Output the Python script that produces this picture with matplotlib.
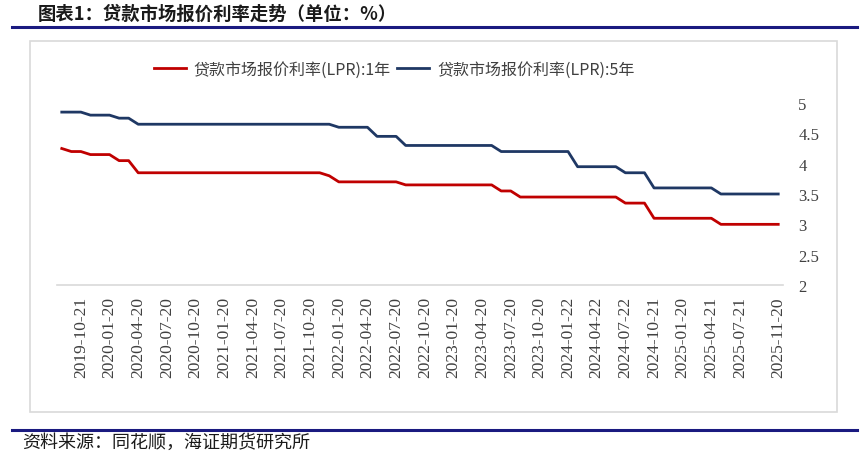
"""LPR 1Y / 5Y monthly trend, step-like line chart."""

import matplotlib.pyplot as plt
from matplotlib.lines import Line2D
from matplotlib.patches import Rectangle

plt.rcParams["font.family"] = ["Noto Sans CJK SC", "DejaVu Sans"]

dates = [
    "2019-08-20", "2019-09-20", "2019-10-21", "2019-11-20", "2019-12-20",
    "2020-01-20", "2020-02-20", "2020-03-20", "2020-04-20", "2020-05-20", "2020-06-22",
    "2020-07-20", "2020-08-20", "2020-09-22", "2020-10-20", "2020-11-20", "2020-12-21",
    "2021-01-20", "2021-02-20", "2021-03-22", "2021-04-20", "2021-05-20", "2021-06-21",
    "2021-07-20", "2021-08-20", "2021-09-22", "2021-10-20", "2021-11-22", "2021-12-20",
    "2022-01-20", "2022-02-21", "2022-03-21", "2022-04-20", "2022-05-20", "2022-06-20",
    "2022-07-20", "2022-08-22", "2022-09-20", "2022-10-20", "2022-11-21", "2022-12-20",
    "2023-01-20", "2023-02-20", "2023-03-20", "2023-04-20", "2023-05-22", "2023-06-20",
    "2023-07-20", "2023-08-21", "2023-09-20", "2023-10-20", "2023-11-20", "2023-12-20",
    "2024-01-22", "2024-02-20", "2024-03-20", "2024-04-22", "2024-05-20", "2024-06-20",
    "2024-07-22", "2024-08-20", "2024-09-20", "2024-10-21", "2024-11-20", "2024-12-20",
    "2025-01-20", "2025-02-20", "2025-03-20", "2025-04-21", "2025-05-20", "2025-06-20",
    "2025-07-21", "2025-08-20", "2025-09-22", "2025-10-20", "2025-11-20",
]

lpr_1y = [
    4.25, 4.20, 4.20, 4.15, 4.15,
    4.15, 4.05, 4.05, 3.85, 3.85, 3.85, 3.85, 3.85, 3.85, 3.85, 3.85, 3.85,
    3.85, 3.85, 3.85, 3.85, 3.85, 3.85, 3.85, 3.85, 3.85, 3.85, 3.85, 3.80,
    3.70, 3.70, 3.70, 3.70, 3.70, 3.70, 3.70, 3.65, 3.65, 3.65, 3.65, 3.65,
    3.65, 3.65, 3.65, 3.65, 3.65, 3.55, 3.55, 3.45, 3.45, 3.45, 3.45, 3.45,
    3.45, 3.45, 3.45, 3.45, 3.45, 3.45, 3.35, 3.35, 3.35, 3.10, 3.10, 3.10,
    3.10, 3.10, 3.10, 3.10, 3.00, 3.00, 3.00, 3.00, 3.00, 3.00, 3.00,
]

lpr_5y = [
    4.85, 4.85, 4.85, 4.80, 4.80,
    4.80, 4.75, 4.75, 4.65, 4.65, 4.65, 4.65, 4.65, 4.65, 4.65, 4.65, 4.65,
    4.65, 4.65, 4.65, 4.65, 4.65, 4.65, 4.65, 4.65, 4.65, 4.65, 4.65, 4.65,
    4.60, 4.60, 4.60, 4.60, 4.45, 4.45, 4.45, 4.30, 4.30, 4.30, 4.30, 4.30,
    4.30, 4.30, 4.30, 4.30, 4.30, 4.20, 4.20, 4.20, 4.20, 4.20, 4.20, 4.20,
    4.20, 3.95, 3.95, 3.95, 3.95, 3.95, 3.85, 3.85, 3.85, 3.60, 3.60, 3.60,
    3.60, 3.60, 3.60, 3.60, 3.50, 3.50, 3.50, 3.50, 3.50, 3.50, 3.50,
]

tick_idx = list(range(2, 72, 3)) + [len(dates) - 1]
y_ticks = [2, 2.5, 3, 3.5, 4, 4.5, 5]

RED = "#C00000"
NAVY = "#1F3864"
GRAY_TXT = "#404040"

fig = plt.figure(figsize=(8.65, 4.56), dpi=100)
W, H = 865, 456

# frame and rules
fig.add_artist(Rectangle((30 / W, 1 - 413 / H), 807 / W, 371 / H, transform=fig.transFigure,
                         fill=False, edgecolor="#D9D9D9", linewidth=1.2))
for y in (28, 431):
    fig.add_artist(Line2D([12 / W, 857 / W], [1 - y / H, 1 - y / H], transform=fig.transFigure,
                          color="#1A1A80", linewidth=2.2))

fig.text(38 / W, 1 - 14 / H, "图表1：贷款市场报价利率走势（单位：%）", fontsize=13.2,
         fontweight="bold", color="#1A1A1A", va="center", ha="left")
fig.text(22 / W, 1 - 443 / H, "资料来源：同花顺，海证期货研究所", fontsize=13,
         color="#1A1A1A", va="center", ha="left")

ax = fig.add_axes([57 / W, 1 - 286 / H, 726 / W, 182 / H])
x = range(len(dates))
ax.plot(x, lpr_1y, color=RED, linewidth=2.0, label="贷款市场报价利率(LPR):1年")
ax.plot(x, lpr_5y, color=NAVY, linewidth=2.0, label="贷款市场报价利率(LPR):5年")

ax.set_xlim(-0.5, len(dates) - 0.5)
ax.set_ylim(2, 5)
for s in ("top", "left", "right"):
    ax.spines[s].set_visible(False)
ax.spines["bottom"].set_color("#D9D9D9")
ax.spines["bottom"].set_linewidth(1.2)

ax.set_xticks(tick_idx)
ax.set_xticklabels([dates[i] for i in tick_idx], rotation=90, fontsize=12.5,
                   family="Liberation Serif", color=GRAY_TXT)
ax.tick_params(axis="x", length=0, pad=8)

ax.yaxis.tick_right()
ax.set_yticks(y_ticks)
ax.set_yticklabels([f"{v:g}" for v in y_ticks], fontsize=12, family="Liberation Serif",
                   color=GRAY_TXT)
ax.tick_params(axis="y", length=0, pad=11)

fig.legend(loc="center", bbox_to_anchor=(394 / W, 1 - 70 / H), ncol=2, frameon=False,
           fontsize=11.5, handlelength=2.0, handletextpad=0.5, columnspacing=0.4,
           labelcolor=GRAY_TXT)

fig.savefig("out.png", dpi=100)
